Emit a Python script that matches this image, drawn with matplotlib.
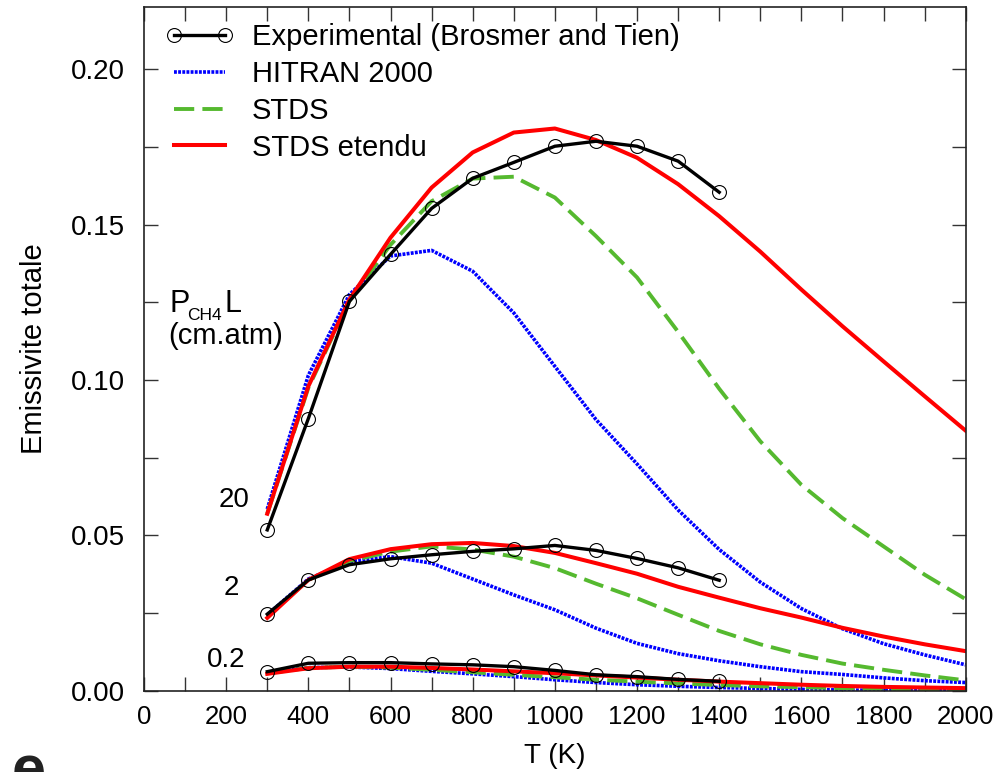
import matplotlib
matplotlib.use("Agg")
import matplotlib.pyplot as plt
from matplotlib.ticker import MultipleLocator, FormatStrFormatter

plt.rcParams['font.family'] = ['Liberation Sans', 'DejaVu Sans']

# temperature grids
T_exp = [300, 400, 500, 600, 700, 800, 900, 1000, 1100, 1200, 1300, 1400]
T_calc = [300, 400, 500, 600, 700, 800, 900, 1000, 1100, 1200, 1300, 1400,
          1500, 1600, 1700, 1800, 1900, 2000]

# experimental (Brosmer and Tien), P_CH4 L = 20, 2, 0.2 cm.atm
exp_20 = [0.0518, 0.0876, 0.1253, 0.1404, 0.1552, 0.1649, 0.1700, 0.1752,
          0.1768, 0.1752, 0.1704, 0.1604]
exp_2 = [0.0247, 0.0357, 0.0406, 0.0425, 0.0438, 0.0449, 0.0457, 0.0468,
         0.0452, 0.0426, 0.0396, 0.0356]
exp_02 = [0.0062, 0.0089, 0.0091, 0.0091, 0.0087, 0.0084, 0.0078, 0.0066,
          0.0052, 0.0046, 0.0037, 0.0031]

# HITRAN 2000
hit_20 = [0.0585, 0.1015, 0.1275, 0.1399, 0.1417, 0.1350, 0.1216, 0.1044,
          0.0873, 0.0730, 0.0582, 0.0455, 0.0350, 0.0265, 0.0200, 0.0152,
          0.0116, 0.0084]
hit_2 = [0.0245, 0.0360, 0.0416, 0.0432, 0.0411, 0.0360, 0.0309, 0.0261,
         0.0202, 0.0153, 0.0120, 0.0097, 0.0078, 0.0062, 0.0053, 0.0042,
         0.0033, 0.0027]
hit_02 = [0.0058, 0.0075, 0.0077, 0.0072, 0.0063, 0.0055, 0.0046, 0.0036,
          0.0027, 0.0020, 0.0015, 0.0011, 0.0008, 0.0005, 0.0003, 0.0002,
          0.0001, 0.0001]

# STDS
stds_20 = [0.0570, 0.0975, 0.1255, 0.1435, 0.1575, 0.1648, 0.1654, 0.1587,
           0.1463, 0.1330, 0.1155, 0.0972, 0.0803, 0.0663, 0.0556, 0.0465,
           0.0374, 0.0295]
stds_2 = [0.0240, 0.0357, 0.0418, 0.0448, 0.0465, 0.0455, 0.0432, 0.0395,
          0.0345, 0.0298, 0.0245, 0.0193, 0.0150, 0.0116, 0.0088, 0.0068,
          0.0050, 0.0034]
stds_02 = [0.0057, 0.0074, 0.0078, 0.0075, 0.0068, 0.0060, 0.0052, 0.0044,
           0.0036, 0.0030, 0.0024, 0.0019, 0.0015, 0.0012, 0.0009, 0.0007,
           0.0005, 0.0004]

# STDS etendu
ext_20 = [0.0570, 0.0980, 0.1259, 0.1458, 0.1619, 0.1732, 0.1796, 0.1809,
          0.1772, 0.1715, 0.1630, 0.1527, 0.1413, 0.1291, 0.1173, 0.1060,
          0.0948, 0.0837]
ext_2 = [0.0235, 0.0357, 0.0424, 0.0456, 0.0472, 0.0476, 0.0466, 0.0444,
         0.0411, 0.0377, 0.0335, 0.0300, 0.0266, 0.0236, 0.0203, 0.0175,
         0.0150, 0.0128]
ext_02 = [0.0055, 0.0073, 0.0078, 0.0078, 0.0074, 0.0069, 0.0063, 0.0057,
          0.0050, 0.0043, 0.0036, 0.0030, 0.0025, 0.0020, 0.0016, 0.0013,
          0.0011, 0.0009]

GREEN = '#55b92f'

fig = plt.figure(figsize=(10.07, 7.72), dpi=100)
ax = fig.add_axes([0.143, 0.105, 0.816, 0.886])

exp_kw = dict(color='black', lw=2.4, marker='o', ms=10, mfc='none',
              mec='black', mew=0.8)
hit_kw = dict(color='#0000ff', lw=2.6, ls=(0, (0.8, 0.35)))
stds_kw = dict(color=GREEN, lw=2.8, ls=(0, (5.2, 2.1)))
ext_kw = dict(color='#ff0000', lw=2.9)

for i, (e, h, s, x) in enumerate([(exp_20, hit_20, stds_20, ext_20),
                                  (exp_2, hit_2, stds_2, ext_2),
                                  (exp_02, hit_02, stds_02, ext_02)]):
    lab = (i == 0)
    ax.plot(T_calc, h, label='HITRAN 2000' if lab else None, **hit_kw)
    ax.plot(T_calc, s, label='STDS' if lab else None, **stds_kw)
    ax.plot(T_calc, x, label='STDS etendu' if lab else None, **ext_kw)
    ax.plot(T_exp, e, label='Experimental (Brosmer and Tien)' if lab else None,
            zorder=5, **exp_kw)

ax.set_xlim(0, 2000)
ax.set_ylim(0, 0.22)
ax.xaxis.set_major_locator(MultipleLocator(200))
ax.xaxis.set_minor_locator(MultipleLocator(100))
ax.yaxis.set_major_locator(MultipleLocator(0.05))
ax.yaxis.set_minor_locator(MultipleLocator(0.025))
ax.yaxis.set_major_formatter(FormatStrFormatter('%.2f'))
ax.tick_params(which='both', direction='in', top=True, right=True,
               length=10, width=1, color='#333333')
ax.tick_params(axis='x', labelsize=18.5, pad=10)
ax.tick_params(axis='y', labelsize=20, pad=14)
for sp in ax.spines.values():
    sp.set_linewidth(1.2)
    sp.set_color('#222222')

ax.set_xlabel('T (K)', fontsize=20, labelpad=10)
ax.set_ylabel('Emissivite totale', fontsize=21, labelpad=16)

# curve labels
ax.text(219, 0.0615, '20', fontsize=20, ha='center', va='center')
ax.text(212, 0.0332, '2', fontsize=20, ha='center', va='center')
ax.text(200, 0.0100, '0.2', fontsize=20, ha='center', va='center')
# P_CH4 L (cm.atm), built from pieces so the small subscript sits like the original
ax.text(63, 0.1218, 'P', fontsize=22, ha='left', va='baseline')
ax.text(104, 0.1194, 'CH4', fontsize=12.5, ha='left', va='baseline')
ax.text(195, 0.1218, 'L', fontsize=22, ha='left', va='baseline')
ax.text(58, 0.1117, '(cm.atm)', fontsize=21, ha='left', va='baseline')

h, l = ax.get_legend_handles_labels()
order = [3, 0, 1, 2]
ax.legend([h[k] for k in order], [l[k] for k in order], loc='upper left',
          bbox_to_anchor=(0.0255, 0.976), frameon=False, fontsize=21,
          handlelength=2.35, handletextpad=0.62, labelspacing=0.3,
          borderpad=0, borderaxespad=0, numpoints=2)

# cut-off panel letter at the bottom left
fig.text(0.028, 0.036, 'e', fontsize=44, fontweight='bold', color='#222222',
         ha='center', va='top')

fig.savefig('out.png', dpi=100)
